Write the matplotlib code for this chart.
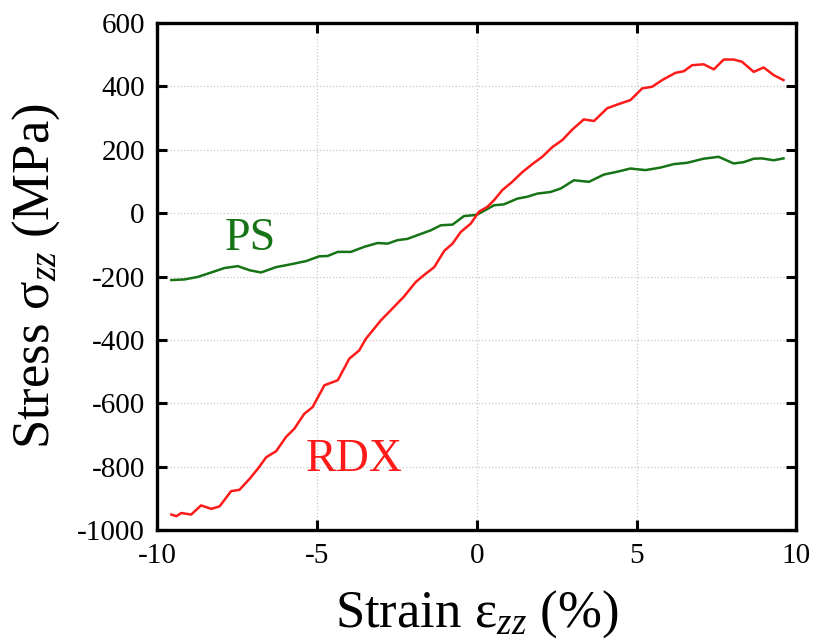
import matplotlib.pyplot as plt

plt.rcParams['font.family'] = ['Liberation Serif', 'DejaVu Serif']
plt.rcParams['mathtext.fontset'] = 'custom'
plt.rcParams['mathtext.rm'] = 'Liberation Serif'
plt.rcParams['mathtext.it'] = 'Liberation Serif:italic'
plt.rcParams['axes.unicode_minus'] = False

# PS (green) curve
ps_x = [-9.56, -9.15, -8.73, -8.31, -7.9, -7.48, -7.11, -6.75, -6.28, -5.81,
        -5.34, -4.93, -4.67, -4.35, -3.94, -3.52, -3.1, -2.79, -2.48, -2.17,
        -1.85, -1.44, -1.125, -0.76, -0.4, -0.08, 0.02, 0.54, 0.85, 1.27,
        1.58, 1.9, 2.31, 2.63, 3.04, 3.51, 3.98, 4.4, 4.81, 5.28,
        5.75, 6.17, 6.58, 7.1, 7.57, 8.04, 8.35, 8.67, 8.93, 9.29, 9.6]
ps_y = [-211, -209, -201, -187, -173, -167, -180, -187, -170, -161,
        -151, -136, -135, -122, -122, -106, -94, -96, -85, -81,
        -69, -54, -38, -36, -9, -6, -4, 25, 28, 46,
        52, 62, 67, 78, 104, 99, 122, 131, 141, 136,
        144, 155, 159, 172, 178, 157, 161, 172, 173, 167, 173]

# RDX (red) curve
rdx_x = [-9.56, -9.4, -9.25, -8.94, -8.63, -8.31, -8.05, -7.69, -7.43, -7.11,
         -6.85, -6.59, -6.28, -5.97, -5.71, -5.4, -5.14, -4.77, -4.35, -3.99,
         -3.68, -3.47, -3.0, -2.69, -2.27, -1.91, -1.65, -1.33, -1.02, -0.76,
         -0.5, -0.19, 0.07, 0.33, 0.54, 0.8, 1.11, 1.43, 1.74, 2.05,
         2.37, 2.68, 2.99, 3.35, 3.67, 4.08, 4.4, 4.81, 5.18, 5.49,
         5.8, 6.22, 6.48, 6.74, 7.1, 7.42, 7.73, 8.04, 8.3, 8.67,
         8.98, 9.29, 9.6]
rdx_y = [-951, -956, -946, -951, -922, -933, -925, -877, -873, -838,
         -806, -770, -751, -706, -680, -633, -612, -543, -527, -459,
         -433, -396, -338, -306, -262, -217, -195, -170, -119, -96,
         -59, -33, 5, 20, 41, 73, 99, 130, 155, 178,
         209, 231, 264, 296, 291, 331, 343, 357, 394, 399,
         420, 443, 448, 467, 470, 454, 485, 485, 478, 446,
         460, 436, 420]

green = '#167416'
red = '#ff1a1a'

fig = plt.figure(figsize=(8.15, 6.41), dpi=100)
ax = fig.add_axes([0.193, 0.173, 0.784, 0.791])

ax.plot(ps_x, ps_y, color=green, linewidth=1.8)
ax.plot(rdx_x, rdx_y, color=red, linewidth=1.8)

ax.text(-7.1, -80, "PS", color=green, fontsize=33, ha='center', va='center')
ax.text(-3.85, -778, "RDX", color=red, fontsize=33, ha='center', va='center')

ax.set_xlim(-10, 10)
ax.set_ylim(-1000, 600)
ax.set_xticks([-10, -5, 0, 5, 10])
ax.set_yticks([-1000, -800, -600, -400, -200, 0, 200, 400, 600])
ax.grid(color='#c8c8c8', linestyle=':', linewidth=0.9)
ax.tick_params(direction='in', length=7, width=2.2, labelsize=21,
               top=True, right=True, pad=9)
for s in ax.spines.values():
    s.set_linewidth(2.4)

ax.set_xlabel(r'Strain ε$_{zz}$ (%)', fontsize=38, labelpad=14)
ax.set_ylabel(r'Stress σ$_{zz}$ (MPa)', fontsize=38, labelpad=11)

fig.savefig('out.png', dpi=100)
